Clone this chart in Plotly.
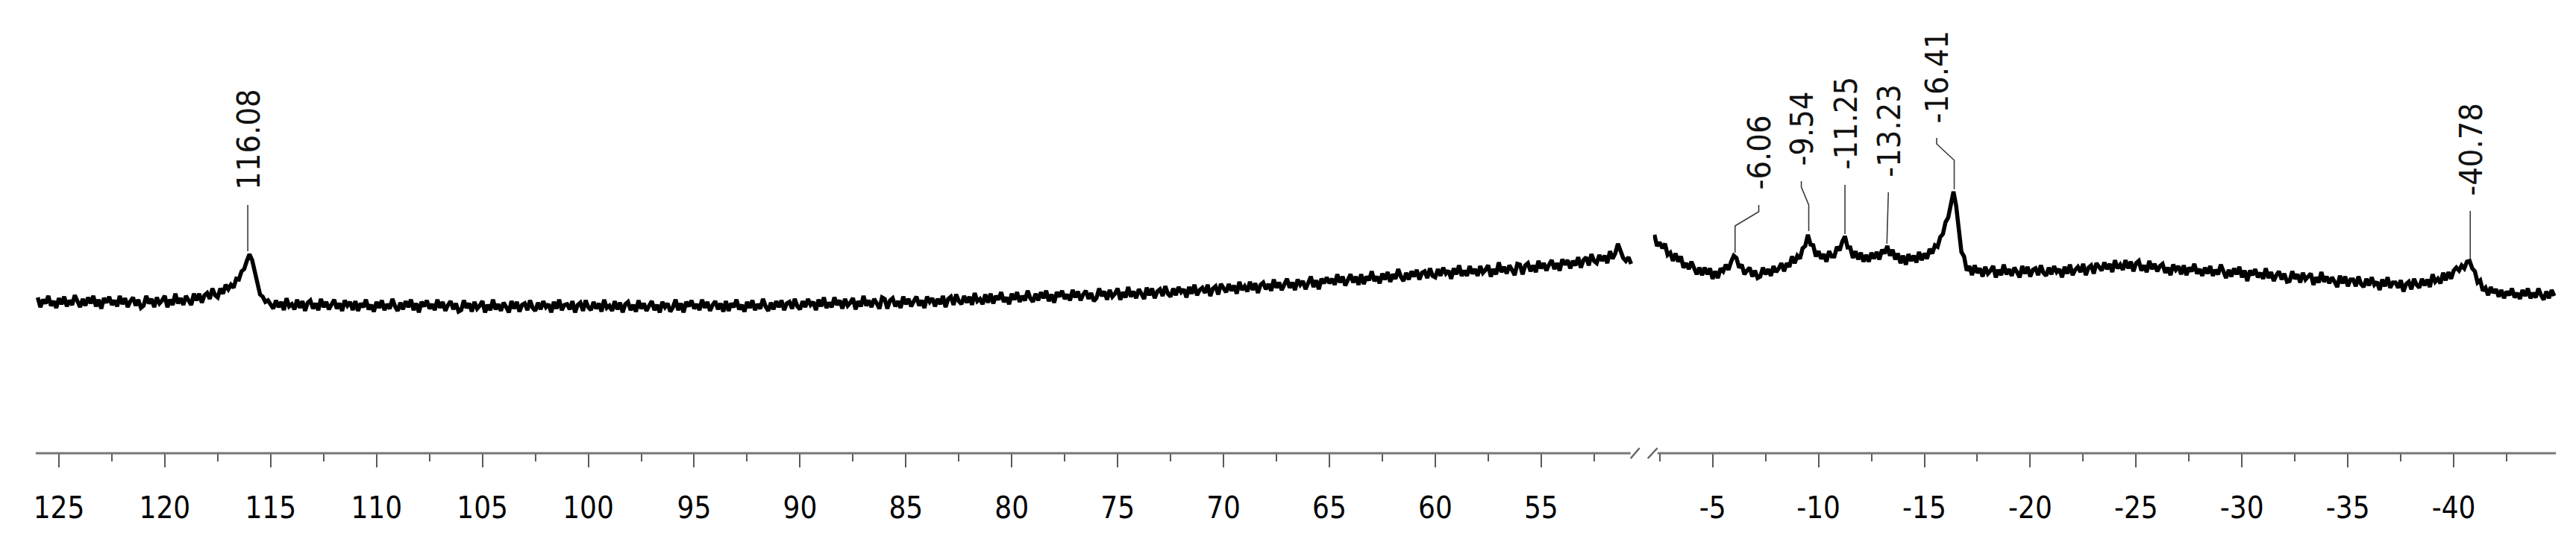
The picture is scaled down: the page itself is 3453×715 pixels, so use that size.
import plotly.graph_objects as go

W, H = 3453, 715

# ---------------- data ----------------
# chemical shift grid (ppm) of the two displayed windows
left_start, right_start, ppm_step = 126.0, -2.25, -0.125

left_intensity = [
    209,196,206,201,211,198,204,195,208,200,210,197,205,199,212,202,196,207,198,209,201,211,197,206,194,208,202,210,199,205,197,211,200,208,196,204,209,198,206,195,
    198,211,201,207,196,209,201,205,211,196,206,199,214,201,208,199,211,205,199,214,205,214,202,212,215,207,221,212,209,221,214,226,220,226,222,234,233,244,247,258,
    267,259,243,227,213,210,203,205,198,194,205,196,203,192,208,197,200,193,206,195,204,191,202,205,194,201,192,207,196,203,193,200,206,194,201,191,205,198,203,192,
    204,191,201,196,206,193,199,190,203,195,205,192,200,194,207,197,191,202,193,204,196,206,192,201,189,203,197,205,194,200,192,206,195,203,191,199,204,193,201,190,
    192,205,195,201,190,203,194,198,204,189,199,192,206,193,200,191,202,196,189,204,194,203,190,199,201,192,205,195,191,202,193,204,196,200,189,203,194,206,192,199,
    200,193,204,189,199,202,191,205,196,192,203,194,201,190,206,195,198,191,204,193,202,189,200,203,192,199,190,205,194,201,191,198,204,192,199,189,203,196,201,190,
    196,206,192,201,189,203,197,205,194,200,192,206,195,203,191,199,204,193,201,190,204,191,201,196,206,193,199,190,203,195,205,192,200,194,207,197,191,202,193,204,
    196,205,192,201,203,194,207,197,193,204,196,207,199,203,192,206,197,209,195,202,196,209,199,205,194,207,198,202,208,193,204,197,211,198,205,196,207,201,194,209,
    207,194,205,208,197,204,195,210,200,207,197,204,210,198,205,195,210,203,208,197,207,200,211,196,207,210,199,213,204,200,211,202,210,199,215,204,207,200,213,202,
    214,201,211,206,216,203,209,200,214,206,216,203,211,205,218,208,203,214,205,216,208,218,204,213,202,216,210,218,207,213,205,219,209,217,205,213,218,207,215,204,
    208,221,211,217,206,219,210,214,221,206,216,209,223,210,217,208,220,214,207,222,212,221,208,217,220,211,224,214,210,221,212,223,216,220,209,223,214,226,212,219,
    222,215,226,211,221,224,213,227,220,216,227,218,225,214,230,219,224,217,230,219,228,215,226,229,220,227,218,233,222,229,219,226,234,222,229,219,233,226,231,220,
    227,237,223,232,220,234,228,236,228,234,226,240,229,237,225,233,240,229,237,226,240,227,237,232,244,231,237,228,241,233,243,230,240,234,247,237,231,242,233,244,
    237,246,233,242,244,235,248,238,236,247,238,249,241,245,234,248,240,252,238,245,238,251,241,247,238,251,242,246,252,237,247,240,256,243,250,241,252,246,239,254,
    253,240,252,255,244,252,243,258,248,255,245,253,259,247,255,245,260,253,259,248,258,252,263,249,259,263,252,267,258,255,266,258,265,255,271,261,268,281,272,262,
    258,263,254,
]

right_intensity = [
    293,278,283,275,281,266,269,258,268,257,264,249,255,247,257,247,240,249,239,249,240,248,234,244,235,248,244,253,246,257,265,262,249,253,240,245,249,237,245,235,
    237,249,240,247,238,251,243,248,255,244,255,250,264,255,265,261,275,278,293,280,279,264,271,261,267,257,271,264,264,277,272,284,291,276,276,262,271,260,269,257,
    266,257,269,261,270,260,273,268,278,265,273,260,268,255,265,253,267,258,265,256,270,259,268,261,274,268,279,277,290,294,310,316,332,351,332,303,270,264,245,251,
    239,252,242,248,237,250,241,245,251,236,246,239,253,240,247,238,249,243,236,251,241,250,237,246,248,239,252,242,238,249,240,251,243,247,236,250,241,253,239,246,
    250,243,254,239,249,252,241,255,249,245,256,247,254,243,259,248,253,246,259,248,257,244,255,258,245,252,243,258,247,254,244,251,254,242,249,239,253,246,251,240,
    252,239,249,244,254,241,247,238,249,241,251,238,246,240,253,243,235,246,237,248,240,250,236,245,231,245,239,247,236,242,234,248,235,243,231,239,244,233,241,230,
    231,244,234,240,229,242,233,237,241,226,236,229,243,230,237,228,236,230,223,238,228,237,224,233,233,224,237,227,223,234,225,236,226,230,219,233,224,236,222,229,
    229,222,232,217,227,230,220,234,226,222,234,225,233,223,240,230,234,228,242,232,243,234,245,249,245,252,248,257,258,248,244,229,232,218,222,212,223,215,220,210,
    219,208,217,212,221,209,215,207,219,211,221,208,215,209,221,212,206,217,208,219,211,
]

left_ticks = [125, 120, 115, 110, 105, 100, 95, 90, 85, 80, 75, 70, 65, 60, 55]
right_ticks = [-5, -10, -15, -20, -25, -30, -35, -40]

peak_ppm    = [116.08, -6.06, -9.54, -11.25, -13.23, -16.41, -40.78]
peak_labels = ["116.08", "-6.06", "-9.54", "-11.25", "-13.23", "-16.41", "-40.78"]
label_ppm   = [116.08, -7.18, -9.19, -11.25, -13.30, -15.58, -40.78]
# leader line heights: [peak top, first bend, second bend, end]
leader_h = [
    [271, 333, 333, 333],
    [269, 305, 324, 333],
    [298, 333, 357, 365],
    [294, 360, 360, 360],
    [281, 281, 350, 350],
    [354, 393, 415, 423],
    [261, 325, 325, 325],
]
peak_side = ["L", "R", "R", "R", "R", "R", "R"]

# ---------------- figure ----------------
left_ppm = [round(left_start + ppm_step * i, 3) for i in range(len(left_intensity))]
right_ppm = [round(right_start + ppm_step * i, 3) for i in range(len(right_intensity))]

fig = go.Figure()
line_style = dict(color="#000000", width=5.5)
fig.add_trace(go.Scatter(x=left_ppm, y=left_intensity, mode="lines", line=line_style,
                         xaxis="x", yaxis="y", showlegend=False, hoverinfo="skip"))
fig.add_trace(go.Scatter(x=right_ppm, y=right_intensity, mode="lines", line=line_style,
                         xaxis="x2", yaxis="y", showlegend=False, hoverinfo="skip"))

label_font = dict(family="DejaVu Sans Condensed, DejaVu Sans, sans-serif", size=43, color="#111111")
annotations = []
for p, lab, lx, hh, side in zip(peak_ppm, peak_labels, label_ppm, leader_h, peak_side):
    ax = "x" if side == "L" else "x2"
    fig.add_trace(go.Scatter(x=[p, p, lx, lx], y=hh, mode="lines",
                             line=dict(color="#3a3a3a", width=1.6),
                             xaxis=ax, yaxis="y", showlegend=False, hoverinfo="skip"))
    annotations.append(dict(x=lx, y=hh[3] + 19, xref=ax, yref="y", text=lab,
                            showarrow=False, textangle=-90, xanchor="center",
                            yanchor="bottom", font=label_font, borderpad=0))

tick_font = dict(family="DejaVu Sans Condensed, DejaVu Sans, sans-serif", size=40, color="#000000")
common_axis = dict(
    tickmode="array", ticks="outside", ticklen=18, tickwidth=2, tickcolor="#5a5a5a",
    showline=False, showgrid=False, zeroline=False, tickfont=tick_font,
    ticklabelstandoff=20, anchor="y", fixedrange=True,
    minor=dict(tickmode="linear", tick0=0, dtick=2.5, ticklen=10, tickwidth=2,
               tickcolor="#5a5a5a", showgrid=False),
)

px = lambda v: v / W
fig.update_layout(
    width=W, height=H,
    margin=dict(l=0, r=0, t=0, b=115, pad=0),
    paper_bgcolor="white", plot_bgcolor="white",
    xaxis=dict(domain=[px(37), px(2184)], range=[126.127, 50.528],
               tickvals=left_ticks, ticktext=[str(t) for t in left_ticks], **common_axis),
    xaxis2=dict(domain=[px(2207), px(3418)], range=[-2.183, -44.824],
                tickvals=right_ticks, ticktext=[str(t) for t in right_ticks], **common_axis),
    yaxis=dict(domain=[0, 1], range=[0, 600], visible=False, fixedrange=True),
    annotations=annotations,
    shapes=[
        dict(type="line", xref="paper", yref="paper", x0=px(38), x1=px(2177), y0=0, y1=0,
             line=dict(color="#777777", width=3)),
        dict(type="line", xref="paper", yref="paper", x0=px(2213), x1=px(3418), y0=0, y1=0,
             line=dict(color="#777777", width=3)),
        dict(type="line", xref="paper", yref="paper", x0=px(2177), x1=px(2189),
             y0=-7 / 600, y1=7 / 600, line=dict(color="#666666", width=2.5)),
        dict(type="line", xref="paper", yref="paper", x0=px(2200), x1=px(2213),
             y0=-7 / 600, y1=7 / 600, line=dict(color="#666666", width=2.5)),
    ],
)

fig.write_html("out.html")
